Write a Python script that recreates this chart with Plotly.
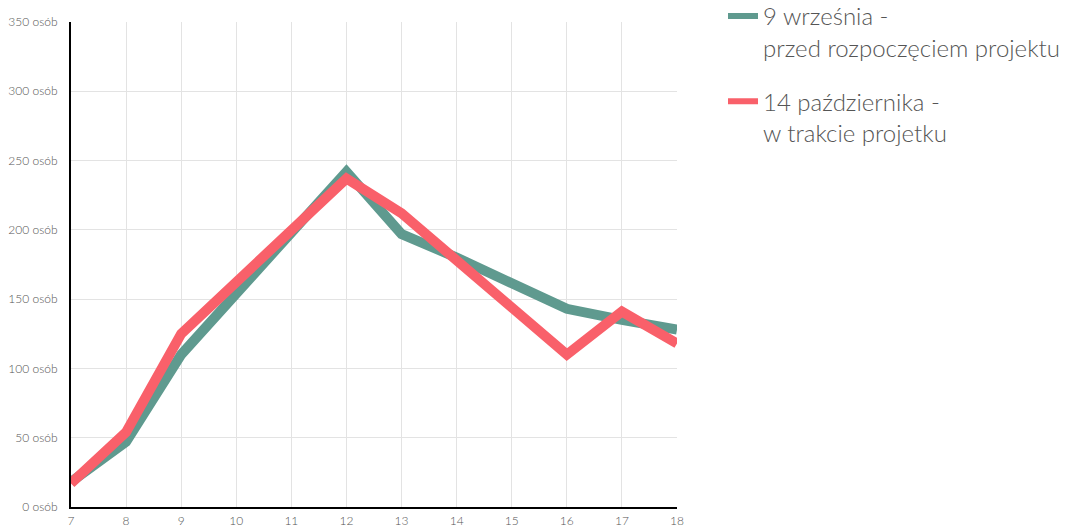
import plotly.graph_objects as go

hours = [7, 8, 9, 10, 11, 12, 13, 14, 15, 16, 17, 18]
sept_9 = [18, 47, 110, 153, 198, 242, 197, 180, 162, 143, 135, 128]
oct_14 = [17, 54, 125, 162, 200, 237, 212, 178, 143, 110, 141, 118]
names = ["9 września -<br>przed rozpoczęciem projektu",
         "14 października -<br>w trakcie projetku"]
colors = ["#5f9a8f", "#f9606a"]
y_ticks = [0, 50, 100, 150, 200, 250, 300, 350]
y_labels = [f"{v} osób" for v in y_ticks]

fig = go.Figure()
for i, (vals, nm, col) in enumerate(zip([sept_9, oct_14], names, colors)):
    fig.add_trace(go.Scatter(x=hours, y=vals, mode="lines", name=nm, showlegend=False,
                             line=dict(color=col, width=10), legendgroup=f"g{i}"))
    # legend entry with a thinner swatch, as in the reference
    fig.add_trace(go.Scatter(x=[None], y=[None], mode="lines", name=nm, showlegend=True,
                             line=dict(color=col, width=6), legendgroup=f"g{i}"))

W, H = 1072, 529
fig.update_layout(
    width=W, height=H,
    margin=dict(l=71, r=395, t=22, b=22, autoexpand=False),
    paper_bgcolor="white", plot_bgcolor="white",
    font=dict(family="Lato", color="#666666", weight=300),
    legend=dict(x=723/W, xref="container", xanchor="left", y=1.058, yref="paper", yanchor="top",
                font=dict(size=24, color="#555555", weight=300), valign="top",
                traceorder="grouped", tracegroupgap=20, bgcolor="rgba(0,0,0,0)"),
    xaxis=dict(range=[7, 18], tickvals=hours, showgrid=True, gridcolor="#e3e3e3", gridwidth=1,
               showline=True, linecolor="black", linewidth=2, zeroline=False, automargin=False,
               tickfont=dict(size=12, color="#555555", weight=300), ticks="", ticklabelstandoff=2),
    yaxis=dict(range=[0, 350], tickvals=y_ticks, ticktext=y_labels, showgrid=True, automargin=False,
               gridcolor="#e3e3e3", gridwidth=1, showline=True, linecolor="black", linewidth=2,
               zeroline=False, tickfont=dict(size=12, color="#555555", weight=300), ticks="",
               ticklabelstandoff=9),
)
fig.write_html("out.html", config={"displayModeBar": False},
               post_script="document.body.style.margin='0';")
